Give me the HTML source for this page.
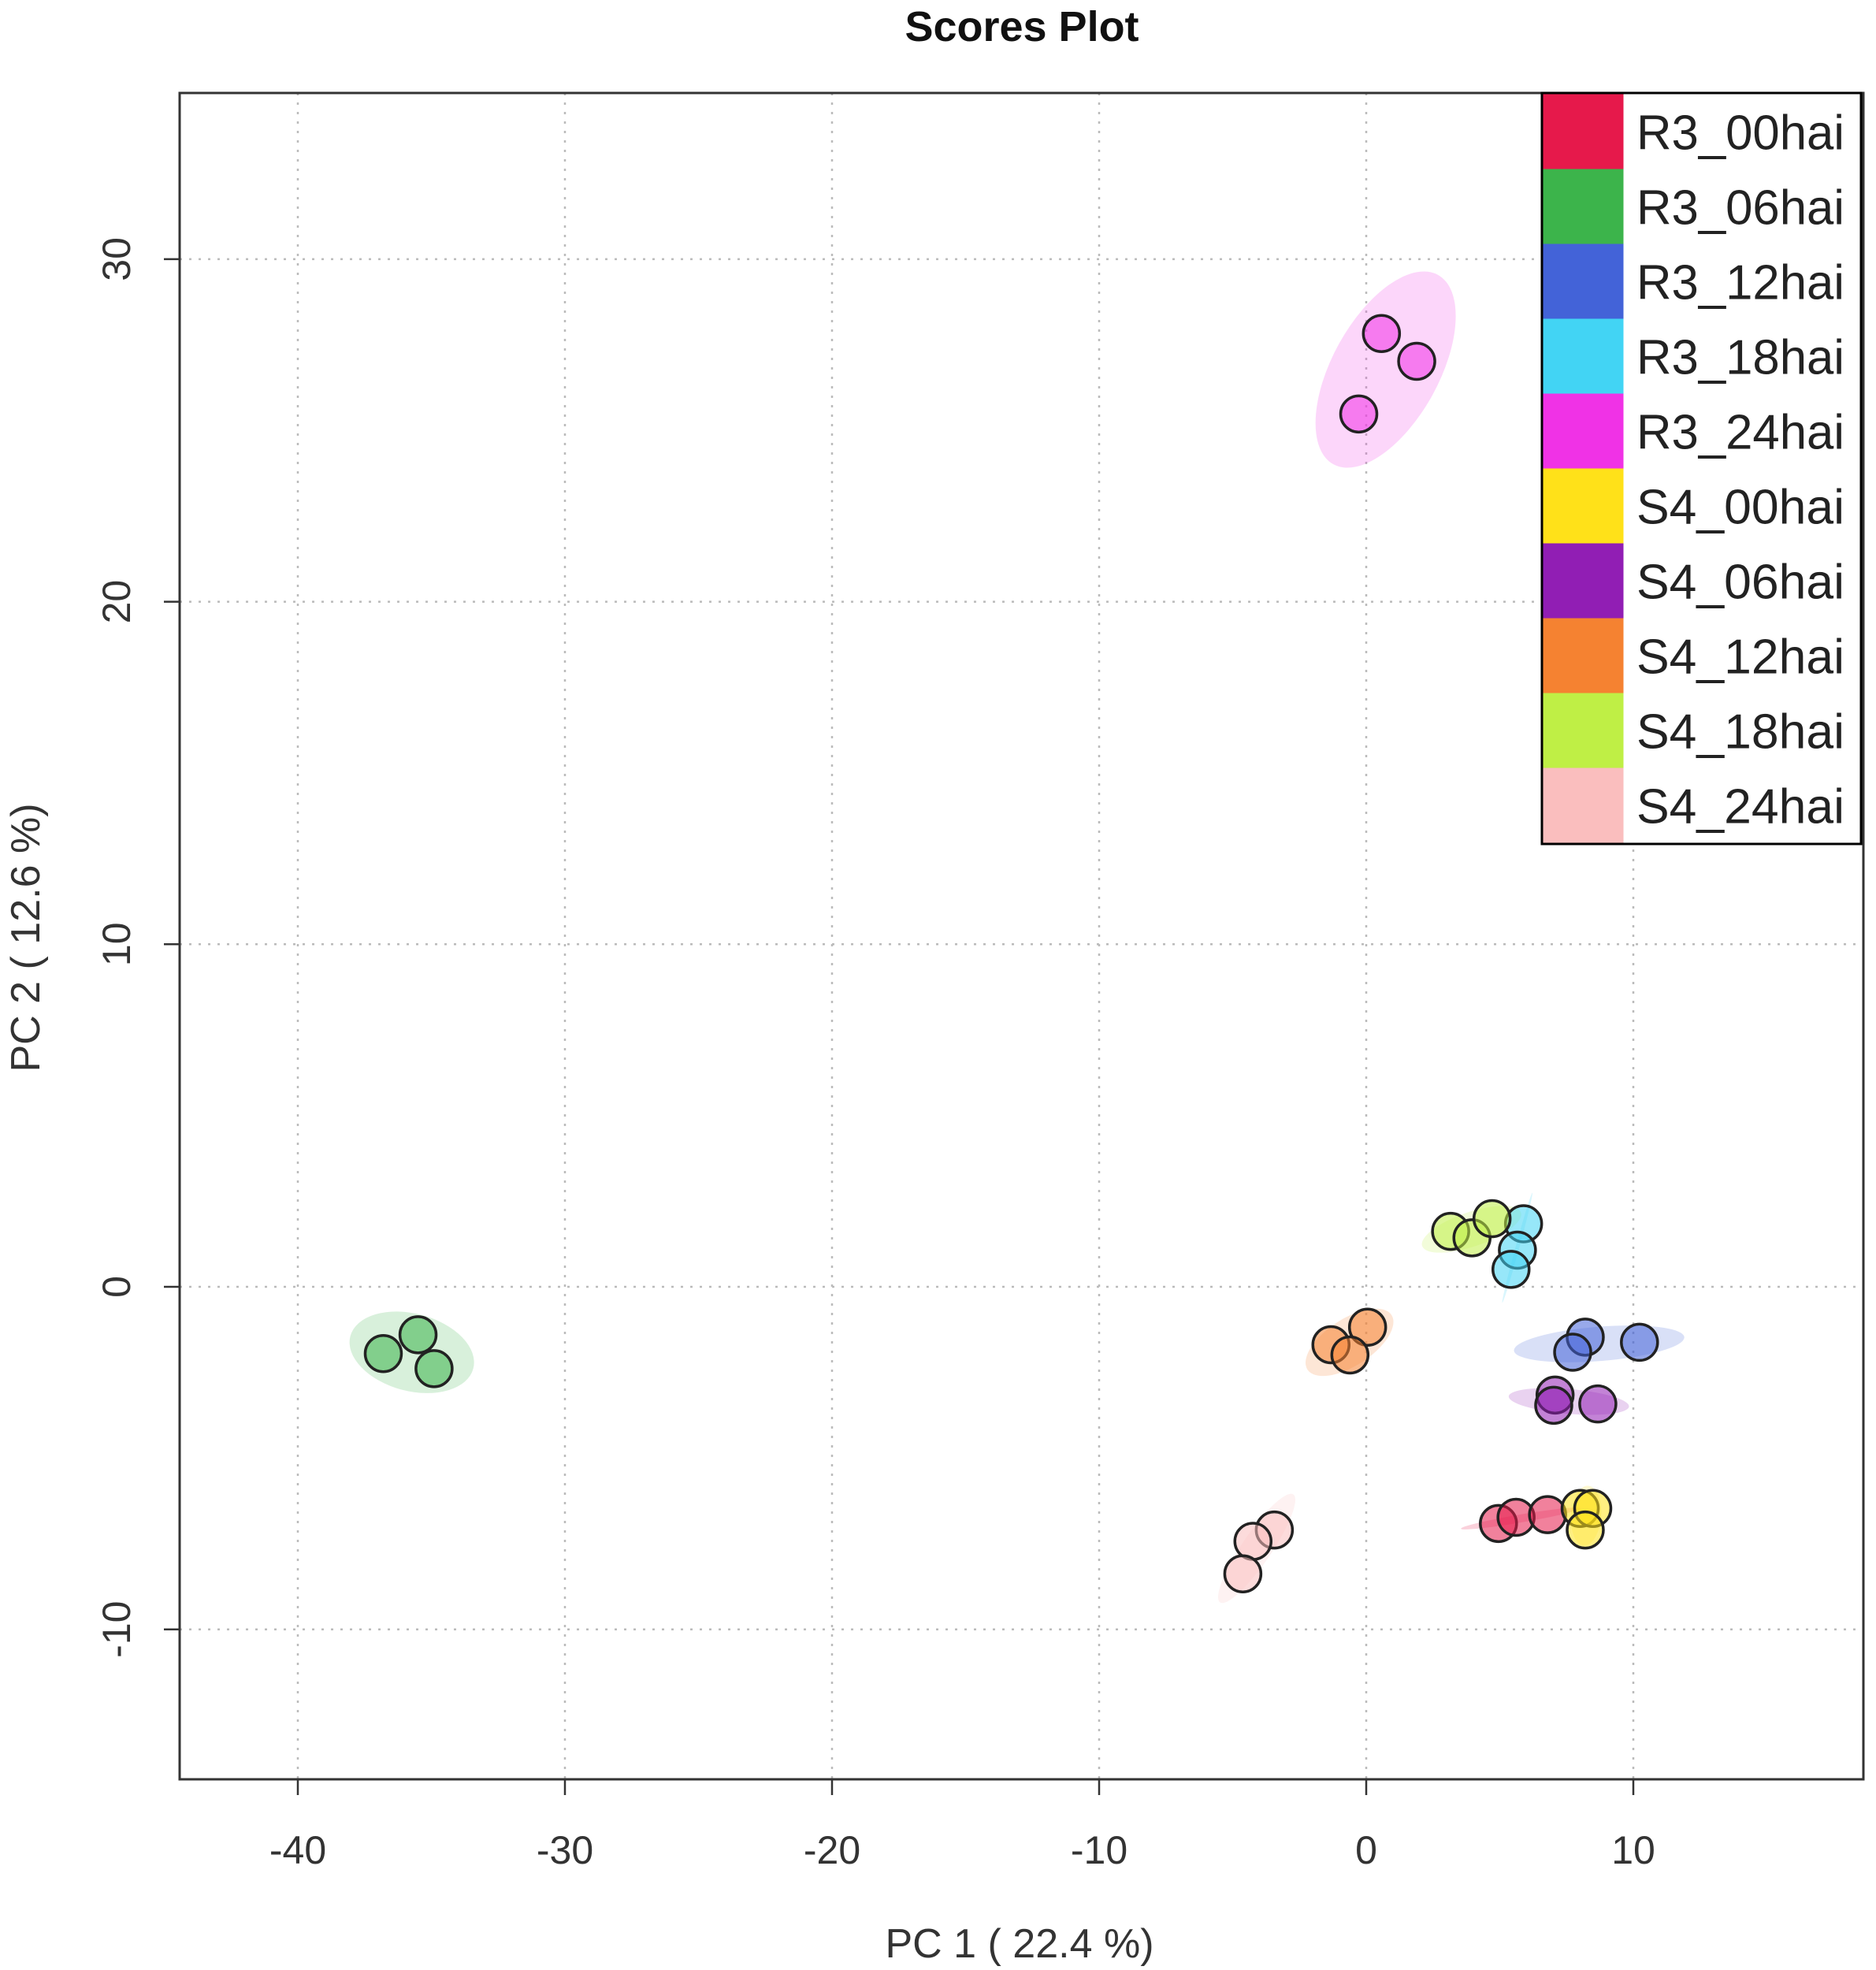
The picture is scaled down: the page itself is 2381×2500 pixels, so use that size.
<!DOCTYPE html>
<html><head><meta charset="utf-8"><style>
html,body{margin:0;padding:0;background:#fff}
svg{display:block;font-family:"Liberation Sans",sans-serif}
</style></head><body>
<svg id="chart" width="2381" height="2500" viewBox="0 0 2381 2500">
<text x="1297" y="52" text-anchor="middle" font-size="54" font-weight="bold" fill="#111">Scores Plot</text>
<g id="grid"></g>
<g id="ellipses"></g>
<g id="points"></g>
<rect x="228" y="118" width="2137" height="2140" fill="none" stroke="#333" stroke-width="3"/>
<g id="axes"></g>
<text x="1294" y="2484" text-anchor="middle" font-size="52" fill="#333">PC 1 ( 22.4 %)</text>
<text transform="translate(50,1190) rotate(-90)" text-anchor="middle" font-size="52" fill="#333">PC 2 ( 12.6 %)</text>
<g id="legend"></g>
</svg>
<script>
const groups = ["R3_00hai","R3_06hai","R3_12hai","R3_18hai","R3_24hai","S4_00hai","S4_06hai","S4_12hai","S4_18hai","S4_24hai"];
const colors = ["#e6194b","#3cb44b","#4363d8","#42d4f4","#f032e6","#ffe119","#911eb4","#f58231","#bfef45","#fabebe"];
const pc1 = [
 [4.95,5.61,6.79],
 [-36.8,-35.5,-34.9],
 [8.20,7.73,10.23],
 [5.89,5.66,5.42],
 [0.57,1.89,-0.28],
 [8.01,8.48,8.20],
 [7.07,7.02,8.67],
 [-1.32,0.05,-0.61],
 [3.16,3.96,4.71],
 [-3.44,-4.24,-4.62]
];
const pc2 = [
 [-6.91,-6.73,-6.65],
 [-1.95,-1.40,-2.39],
 [-1.47,-1.91,-1.62],
 [1.84,1.07,0.51],
 [27.83,27.02,25.48],
 [-6.47,-6.47,-7.10],
 [-3.16,-3.46,-3.42],
 [-1.69,-1.18,-1.99],
 [1.62,1.43,1.99],
 [-7.10,-7.43,-8.38]
];
const xTicks = [-40,-30,-20,-10,0,10];
const yTicks = [-10,0,10,20,30];

const NS="http://www.w3.org/2000/svg";
const X = v => 1734 + 33.9*v;
const Y = v => 1633 - 43.47*v;
const L=228,T=118,R=2365,B=2258;
function mk(tag, attrs, parent){const e=document.createElementNS(NS,tag);for(const k in attrs)e.setAttribute(k,attrs[k]);parent.appendChild(e);return e;}
const grid=document.getElementById('grid'),axes=document.getElementById('axes');
xTicks.forEach(t=>{
  const gl=mk('line',{x1:X(t),x2:X(t),y1:T,y2:B,stroke:'#bbb','stroke-width':2.5,'stroke-dasharray':'3 9'},grid);
  
  
  const tk=mk('line',{x1:X(t),x2:X(t),y1:B,y2:B+20,stroke:'#333','stroke-width':2.5},axes);
  
  
  const tx=mk('text',{x:X(t),y:2365,'text-anchor':'middle','font-size':50,fill:'#333'},axes);
  tx.textContent=t;
  
  
});
yTicks.forEach(t=>{
  const gl=mk('line',{x1:L,x2:R,y1:Y(t),y2:Y(t),stroke:'#bbb','stroke-width':2.5,'stroke-dasharray':'3 9'},grid);
  
  
  const tk=mk('line',{x1:L-20,x2:L,y1:Y(t),y2:Y(t),stroke:'#333','stroke-width':2.5},axes);
  
  
  const tx=mk('text',{transform:`translate(165,${Y(t)}) rotate(-90)`,'text-anchor':'middle','font-size':50,fill:'#333'},axes);
  tx.textContent=t;
  
  
});
const eg=document.getElementById('ellipses'),pg=document.getElementById('points');
groups.forEach((g,i)=>{
  const xs=pc1[i].map(X), ys=pc2[i].map(Y), n=xs.length;
  const mx=xs.reduce((a,b)=>a+b)/n, my=ys.reduce((a,b)=>a+b)/n;
  let sxx=0,syy=0,sxy=0;
  for(let j=0;j<n;j++){sxx+=(xs[j]-mx)**2;syy+=(ys[j]-my)**2;sxy+=(xs[j]-mx)*(ys[j]-my);}
  sxx/=n-1;syy/=n-1;sxy/=n-1;
  const tr=(sxx+syy)/2, d=Math.sqrt(((sxx-syy)/2)**2+sxy*sxy);
  const l1=tr+d,l2=Math.max(tr-d,1);
  const ang=Math.atan2(l1-sxx,sxy||1e-9)*180/Math.PI;
  const k=2.4;
  const el=mk('ellipse',{cx:mx,cy:my,rx:k*Math.sqrt(l1),ry:k*Math.sqrt(l2),transform:`rotate(${sxy===0?0:ang} ${mx} ${my})`,fill:colors[i],'fill-opacity':0.2},eg);
  
  
  for(let j=0;j<n;j++){
    const c=mk('circle',{cx:xs[j],cy:ys[j],r:23,fill:colors[i],'fill-opacity':0.55,stroke:'#222','stroke-width':3.5},pg);
    
    
  }
});
const lg=document.getElementById('legend');
const lb=mk('rect',{x:1957,y:118,width:405,height:953,fill:'#fff',stroke:'#000','stroke-width':3},lg);


groups.forEach((g,i)=>{
  const y=119.5+i*95;
  const sw=mk('rect',{x:1958.5,y:y,width:102,height:95,fill:colors[i]},lg);
  
  
  const t=mk('text',{x:2077,y:y+70,'font-size':62,fill:'#222',textLength:264,lengthAdjust:'spacingAndGlyphs'},lg);
  t.textContent=g;
  
  
});
</script>
</body></html>
